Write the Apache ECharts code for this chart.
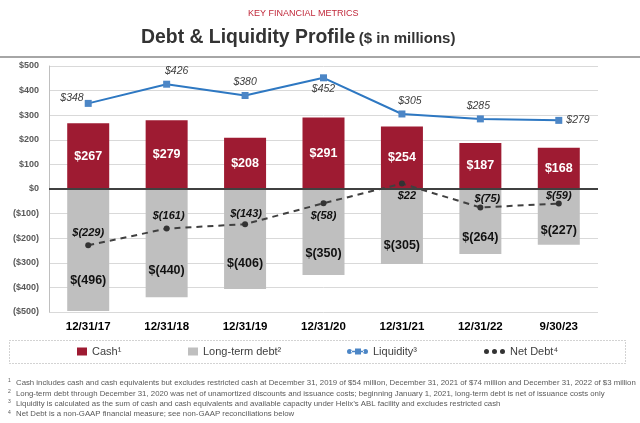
<!DOCTYPE html>
<html>
<head>
<meta charset="utf-8">
<script src="https://cdn.jsdelivr.net/npm/echarts@6/dist/echarts.min.js"></script>
<style>
html,body{margin:0;padding:0;background:#fff;}
#chart{width:640px;height:423px;}
</style>
</head>
<body>
<div id="chart"></div>
<script>
// data
let categories=["12/31/17","12/31/18","12/31/19","12/31/20","12/31/21","12/31/22","9/30/23"]
let cash=[267,279,208,291,254,187,168]
let longTermDebt=[-496,-440,-406,-350,-305,-264,-227]
let liquidity=[348,426,380,452,305,285,279]
let netDebt=[-229,-161,-143,-58,22,-75,-59]
let yTicks=[-500,-400,-300,-200,-100,0,100,200,300,400,500]

// label placement per point (style only)
let liqLabelPos=[["left",[3,-5]],["top",[10,0]],["top",[0,0]],["bottom",[0,-2]],["top",[8,0]],["top",[-2,0]],["right",[0,0]]]
let netLabelPos=[["top",[0,0]],["top",[2,0]],["top",[1,2]],["bottom",[0,0]],["bottom",[5,0]],["top",[7,4]],["top",[0,5]]]

let money=v=>v<0?"$("+(-v)+")":"$"+v

let myChart=echarts.init(document.getElementById("chart"))

let footnotes=[
  "Cash includes cash and cash equivalents but excludes restricted cash at December 31, 2019 of $54 million, December 31, 2021 of $74 million and December 31, 2022 of $3 million",
  "Long-term debt through December 31, 2020 was net of unamortized discounts and issuance costs; beginning January 1, 2021, long-term debt is net of issuance costs only",
  "Liquidity is calculated as the sum of cash and cash equivalents and available capacity under Helix\u2019s ABL facility and excludes restricted cash",
  "Net Debt is a non-GAAP financial measure; see non-GAAP reconciliations below"
]
let graphics=[
  {type:"text",left:248,top:9,style:{text:"KEY FINANCIAL METRICS",fill:"#C0283A",font:"9px 'Liberation Sans', Arial, sans-serif"}},
  {type:"text",left:141,top:28,style:{text:"{a|Debt & Liquidity Profile} {b|($ in millions)}",rich:{
    a:{fill:"#333333",font:"bold 19.4px 'Liberation Sans', Arial, sans-serif"},
    b:{fill:"#333333",font:"bold 15px 'Liberation Sans', Arial, sans-serif",padding:[3,0,0,0]}
  }}},
  {type:"line",shape:{x1:0,y1:57,x2:640,y2:57},style:{stroke:"#A6A6A6",lineWidth:2}},
  {type:"rect",shape:{x:9.5,y:340.5,width:616,height:23},style:{fill:"none",stroke:"#A6A6A6",lineWidth:1,lineDash:[1,2]}}
]
footnotes.forEach((t,i)=>{
  graphics.push({type:"text",left:8,top:378.5+i*10.4,style:{text:String(i+1),fill:"#595959",font:"5px 'Liberation Sans', Arial, sans-serif"}})
  graphics.push({type:"text",left:16,top:379+i*10.4,style:{text:t,fill:"#595959",font:"7.8px 'Liberation Sans', Arial, sans-serif"}})
})

let legendBase={top:346,padding:0,itemHeight:8,textStyle:{fontSize:11,color:"#404040",fontFamily:"'Liberation Sans', Arial, sans-serif"}}
let dots="path://M0,3a2.5,2.5 0 1,0 5,0a2.5,2.5 0 1,0 -5,0M8,3a2.5,2.5 0 1,0 5,0a2.5,2.5 0 1,0 -5,0M16,3a2.5,2.5 0 1,0 5,0a2.5,2.5 0 1,0 -5,0"
let dotSq="path://M0,3a2.5,2.5 0 1,0 5,0a2.5,2.5 0 1,0 -5,0M4,2.3h4v1.4h-4zM8,0h6v6h-6zM13,2.3h4v1.4h-4zM16,3a2.5,2.5 0 1,0 5,0a2.5,2.5 0 1,0 -5,0"

myChart.setOption({
  animation:false,
  backgroundColor:"#fff",
  graphic:graphics,
  legend:[
    Object.assign({},legendBase,{left:77,itemWidth:10,data:[{name:"Cash\u00b9",icon:"rect"}]}),
    Object.assign({},legendBase,{left:188,itemWidth:10,data:[{name:"Long-term debt\u00b2",icon:"rect"}]}),
    Object.assign({},legendBase,{left:347,itemWidth:21,itemHeight:6,data:[{name:"Liquidity\u00b3",icon:dotSq}]}),
    Object.assign({},legendBase,{left:484,itemWidth:21,itemHeight:6,data:[{name:"Net Debt\u2074",icon:dots}]})
  ],
  grid:{left:49,right:42,top:66,bottom:111,containLabel:false},
  xAxis:{
    type:"category",
    data:categories,
    axisLine:{show:false},
    axisTick:{show:false},
    axisLabel:{fontSize:11.5,fontWeight:"bold",color:"#000",margin:9,fontFamily:"'Liberation Sans', Arial, sans-serif"}
  },
  yAxis:{
    type:"value",
    min:yTicks[0],
    max:yTicks[yTicks.length-1],
    interval:100,
    axisLine:{show:true,lineStyle:{color:"#BFBFBF",width:1}},
    axisTick:{show:false},
    splitLine:{lineStyle:{color:"#D9D9D9",width:1}},
    axisLabel:{formatter:v=>v<0?"($"+(-v)+")":"$"+v,fontSize:9,fontWeight:"bold",color:"#595959",margin:10,fontFamily:"'Liberation Sans', Arial, sans-serif"}
  },
  series:[
    {
      name:"Cash\u00b9",
      type:"bar",
      data:cash,
      barWidth:42,
      itemStyle:{color:"#9E1B32"},
      label:{show:true,position:"inside",color:"#fff",fontWeight:"bold",fontSize:12.5,fontFamily:"'Liberation Sans', Arial, sans-serif",formatter:p=>money(p.value)}
    },
    {
      name:"Long-term debt\u00b2",
      type:"bar",
      data:longTermDebt,
      barWidth:42,
      barGap:"-100%",
      itemStyle:{color:"#BFBFBF"},
      label:{show:true,position:["50%","75%"],align:"center",verticalAlign:"middle",color:"#111",fontWeight:"bold",fontSize:12.5,fontFamily:"'Liberation Sans', Arial, sans-serif",formatter:p=>money(p.value)}
    },
    {
      name:"Liquidity\u00b3",
      type:"line",
      data:liquidity.map((v,i)=>({value:v,label:{position:liqLabelPos[i][0],offset:liqLabelPos[i][1]}})),
      z:5,
      symbol:"rect",
      symbolSize:7,
      lineStyle:{color:"#2E78C2",width:2},
      itemStyle:{color:"#4C86C6"},
      label:{show:true,distance:4,color:"#404040",fontStyle:"italic",fontSize:10.5,fontFamily:"'Liberation Sans', Arial, sans-serif",formatter:p=>money(p.value)}
    },
    {
      name:"Net Debt\u2074",
      type:"line",
      data:netDebt.map((v,i)=>({value:v,label:{position:netLabelPos[i][0],offset:netLabelPos[i][1]}})),
      z:6,
      symbol:"circle",
      symbolSize:6,
      lineStyle:{color:"#404040",width:2,type:[6,5]},
      itemStyle:{color:"#333333"},
      label:{show:true,distance:4,color:"#111",fontStyle:"italic",fontWeight:"bold",fontSize:11,fontFamily:"'Liberation Sans', Arial, sans-serif",formatter:p=>money(p.value)},
      markLine:{
        silent:true,
        symbol:"none",
        label:{show:false},
        lineStyle:{color:"#404040",width:2,type:"solid"},
        data:[{yAxis:0}]
      }
    }
  ]
})
</script>
</body>
</html>
